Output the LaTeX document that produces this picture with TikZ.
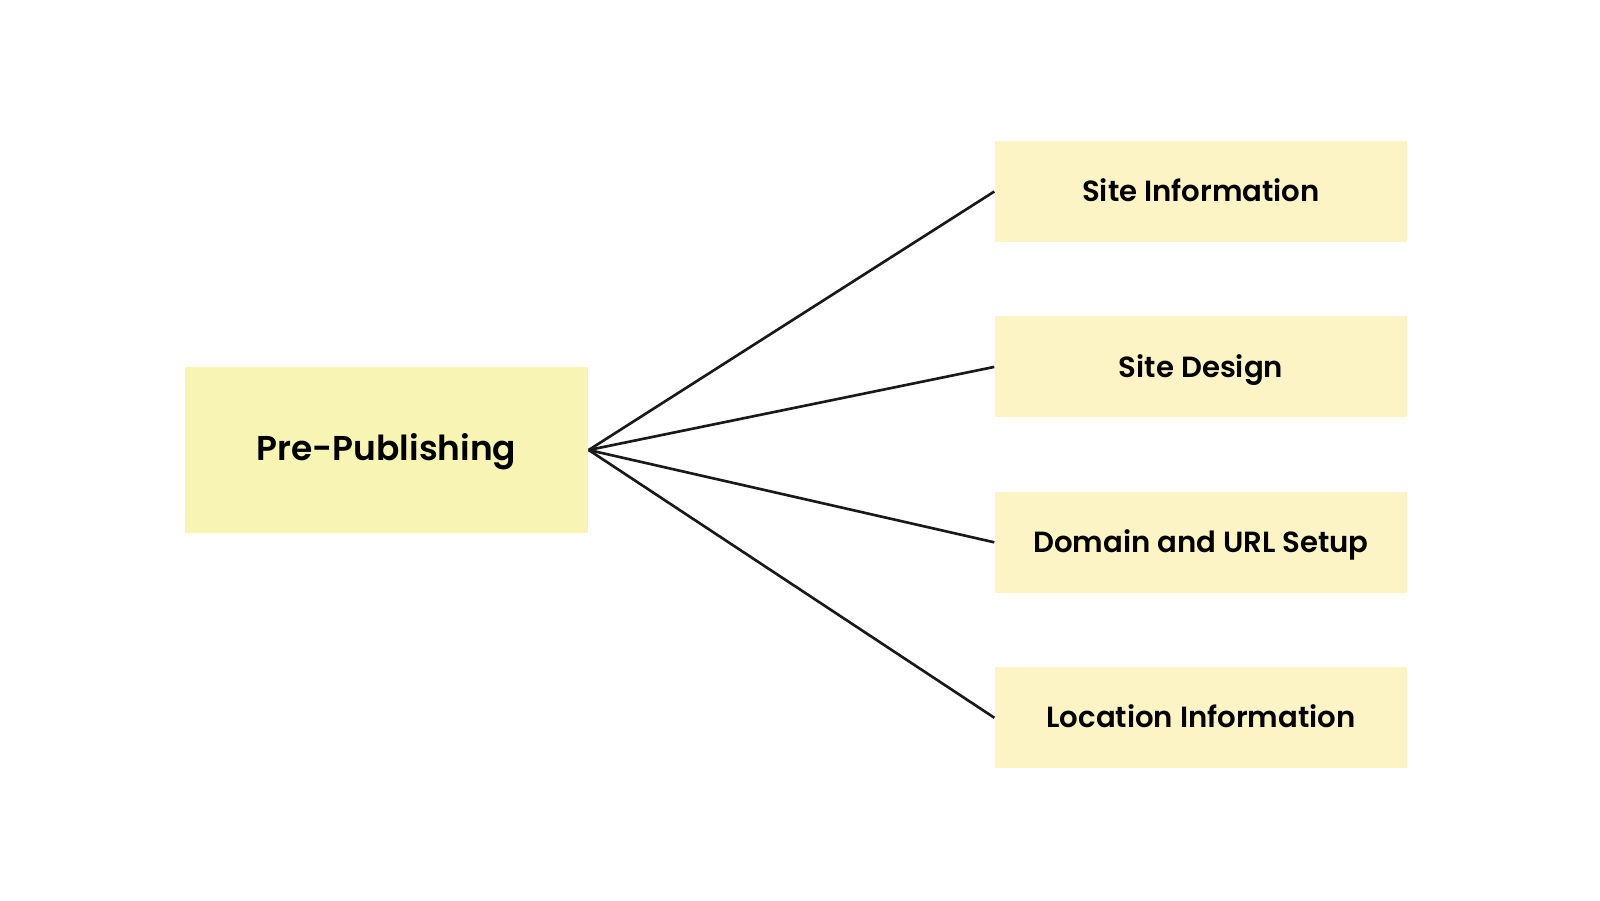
\documentclass[tikz,border=0pt]{standalone}
\usepackage{fontspec}
\setmainfont{Poppins}[UprightFont=* SemiBold]
\usepackage{xcolor}
\usetikzlibrary{positioning}

\definecolor{rootfill}{HTML}{F8F4B4}
\definecolor{leaffill}{HTML}{FCF4C4}

\begin{document}
\begin{tikzpicture}[
  node distance=0.73cm,
  root/.style={rectangle,fill=rootfill,minimum width=4.03cm,minimum height=1.66cm,text height=1.45ex,text depth=0.4ex,font=\fontsize{9.8}{12}\selectfont},
  leaf/.style={rectangle,fill=leaffill,minimum width=4.12cm,minimum height=1.01cm,text height=1.45ex,text depth=0.4ex,font=\fontsize{8.3}{10}\selectfont},
  link/.style={line width=0.75pt,black!90}
]
  \useasboundingbox (0,0) rectangle (16,9);
  \node[root] (pre) at (3.865,4.5) {Pre-Publishing};
  \node[leaf] (info) at (12.01,7.085) {Site Information};
  \node[leaf,below=of info] (design) {Site Design};
  \node[leaf,below=of design] (domain) {Domain and URL Setup};
  \node[leaf,below=of domain] (location) {Location Information};
  \foreach \n in {info,design,domain,location}
    \draw[link] (pre.east) -- (\n.west);
\end{tikzpicture}
\end{document}
